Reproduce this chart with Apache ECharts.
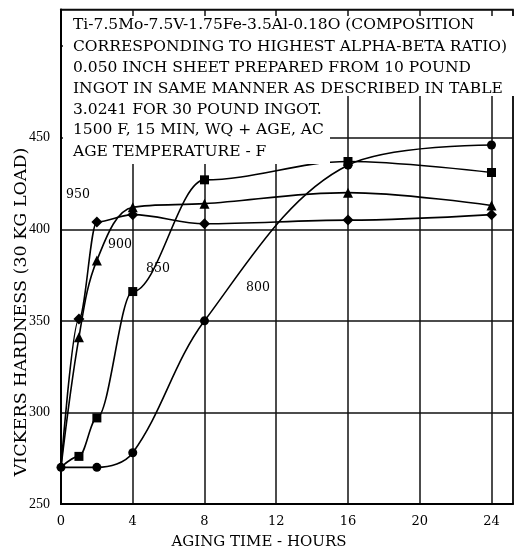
<!DOCTYPE html>
<html>
<head>
<meta charset="utf-8">
<script src="https://cdn.jsdelivr.net/npm/echarts@6/dist/echarts.min.js"></script>
<style>
  html, body { margin: 0; padding: 0; background: #fff; }
  #chart { width: 516px; height: 552px; }
</style>
</head>
<body>
<div id="chart"></div>
<script>
// aging time (hours) and Vickers hardness for each age temperature (F)
var hours800 = [0, 2, 4, 8, 16, 24];
var hv800 = [270, 270, 278, 350, 435, 446];

var hours850 = [0, 1, 2, 4, 8, 16, 24];
var hv850 = [270, 276, 297, 366, 427, 437, 431];

var hours900 = [0, 1, 2, 4, 8, 16, 24];
var hv900 = [270, 341, 383, 412, 414, 420, 413];

var hours950 = [0, 1, 2, 4, 8, 16, 24];
var hv950 = [270, 351, 404, 408, 403, 405, 408];

var titleLines = [
  'Ti-7.5Mo-7.5V-1.75Fe-3.5Al-0.18O (COMPOSITION',
  'CORRESPONDING TO HIGHEST ALPHA-BETA RATIO)',
  '0.050 INCH SHEET PREPARED FROM 10 POUND',
  'INGOT IN SAME MANNER AS DESCRIBED IN TABLE',
  '3.0241 FOR 30 POUND INGOT.',
  '1500 F, 15 MIN, WQ + AGE, AC',
  'AGE TEMPERATURE - F'
];

var SERIF = '"DejaVu Serif", serif';
var TIMES = '"Liberation Serif", serif';

function pairs(xs, ys, firstSymbol) {
  return xs.map(function (x, i) {
    var item = { value: [x, ys[i]] };
    if (i === 0 && !firstSymbol) item.symbol = 'none';
    return item;
  });
}

function curve(name, xs, ys, symbol, size, firstSymbol, monotone) {
  return {
    name: name,
    type: 'line',
    data: pairs(xs, ys, firstSymbol),
    smooth: 0.35,
    smoothMonotone: monotone,
    symbol: symbol,
    symbolSize: size,
    showAllSymbol: true,
    lineStyle: { color: '#000', width: 1.6 },
    itemStyle: { color: '#000', borderWidth: 0 },
    z: 5
  };
}

var chart = echarts.init(document.getElementById('chart'));

var graphics = [
  { type: 'rect', shape: { x: 63, y: 16, width: 267, height: 148 }, style: { fill: '#fff' }, z: 100 },
  { type: 'rect', shape: { x: 63, y: 16, width: 451, height: 80 }, style: { fill: '#fff' }, z: 100 }
];
var lineY = [25, 47, 68, 89, 110, 130, 152];
titleLines.forEach(function (t, i) {
  graphics.push({
    type: 'text', x: 73, y: lineY[i], z: 101,
    style: { text: t, font: '15.5px ' + SERIF, fill: '#000', textVerticalAlign: 'middle' }
  });
});
// curve labels
[['950', 78, 195], ['900', 120, 245], ['850', 158, 269], ['800', 258, 288]].forEach(function (l) {
  graphics.push({
    type: 'text', x: l[1], y: l[2], z: 101,
    style: { text: l[0], font: '12.5px ' + SERIF, fill: '#000', textAlign: 'center', textVerticalAlign: 'middle' }
  });
});
// axis titles
graphics.push({
  type: 'text', x: 21, y: 312, rotation: Math.PI / 2, z: 101,
  style: { text: 'VICKERS HARDNESS (30 KG LOAD)', font: '17.5px ' + SERIF, fill: '#000', textAlign: 'center', textVerticalAlign: 'middle' }
});
graphics.push({
  type: 'text', x: 259, y: 542, z: 101,
  style: { text: 'AGING TIME - HOURS', font: '15px ' + SERIF, fill: '#000', textAlign: 'center', textVerticalAlign: 'middle' }
});

chart.setOption({
  animation: false,
  backgroundColor: '#fff',
  grid: {
    left: 61, right: 1, top: 9.5, bottom: 48,
    show: true, borderColor: '#000', borderWidth: 1.5
  },
  xAxis: {
    type: 'value', min: 0, max: 25.2, interval: 4,
    axisLine: { lineStyle: { color: '#000', width: 2 } },
    axisTick: { show: false },
    splitLine: { lineStyle: { color: '#111', width: 1.5 } },
    axisLabel: {
      color: '#000', fontFamily: SERIF, fontSize: 13, margin: 11,
      formatter: function (v) { return v % 4 === 0 && v <= 24 ? String(v) : ''; }
    }
  },
  yAxis: {
    type: 'value', min: 250, max: 520, interval: 50,
    axisLine: { lineStyle: { color: '#000', width: 2 } },
    axisTick: { show: false },
    splitLine: { lineStyle: { color: '#111', width: 1.5 } },
    axisLabel: {
      color: '#000', fontFamily: TIMES, fontSize: 14, margin: 11,
      formatter: function (v) { return v <= 450 ? String(v) : ''; }
    }
  },
  graphic: graphics,
  series: [
    curve('800', hours800, hv800, 'circle', 9, true, null),
    curve('850', hours850, hv850, 'rect', 9, false, 'x'),
    curve('900', hours900, hv900, 'triangle', 10, false, null),
    curve('950', hours950, hv950, 'diamond', 11, false, 'x')
  ]
});
</script>
</body>
</html>
